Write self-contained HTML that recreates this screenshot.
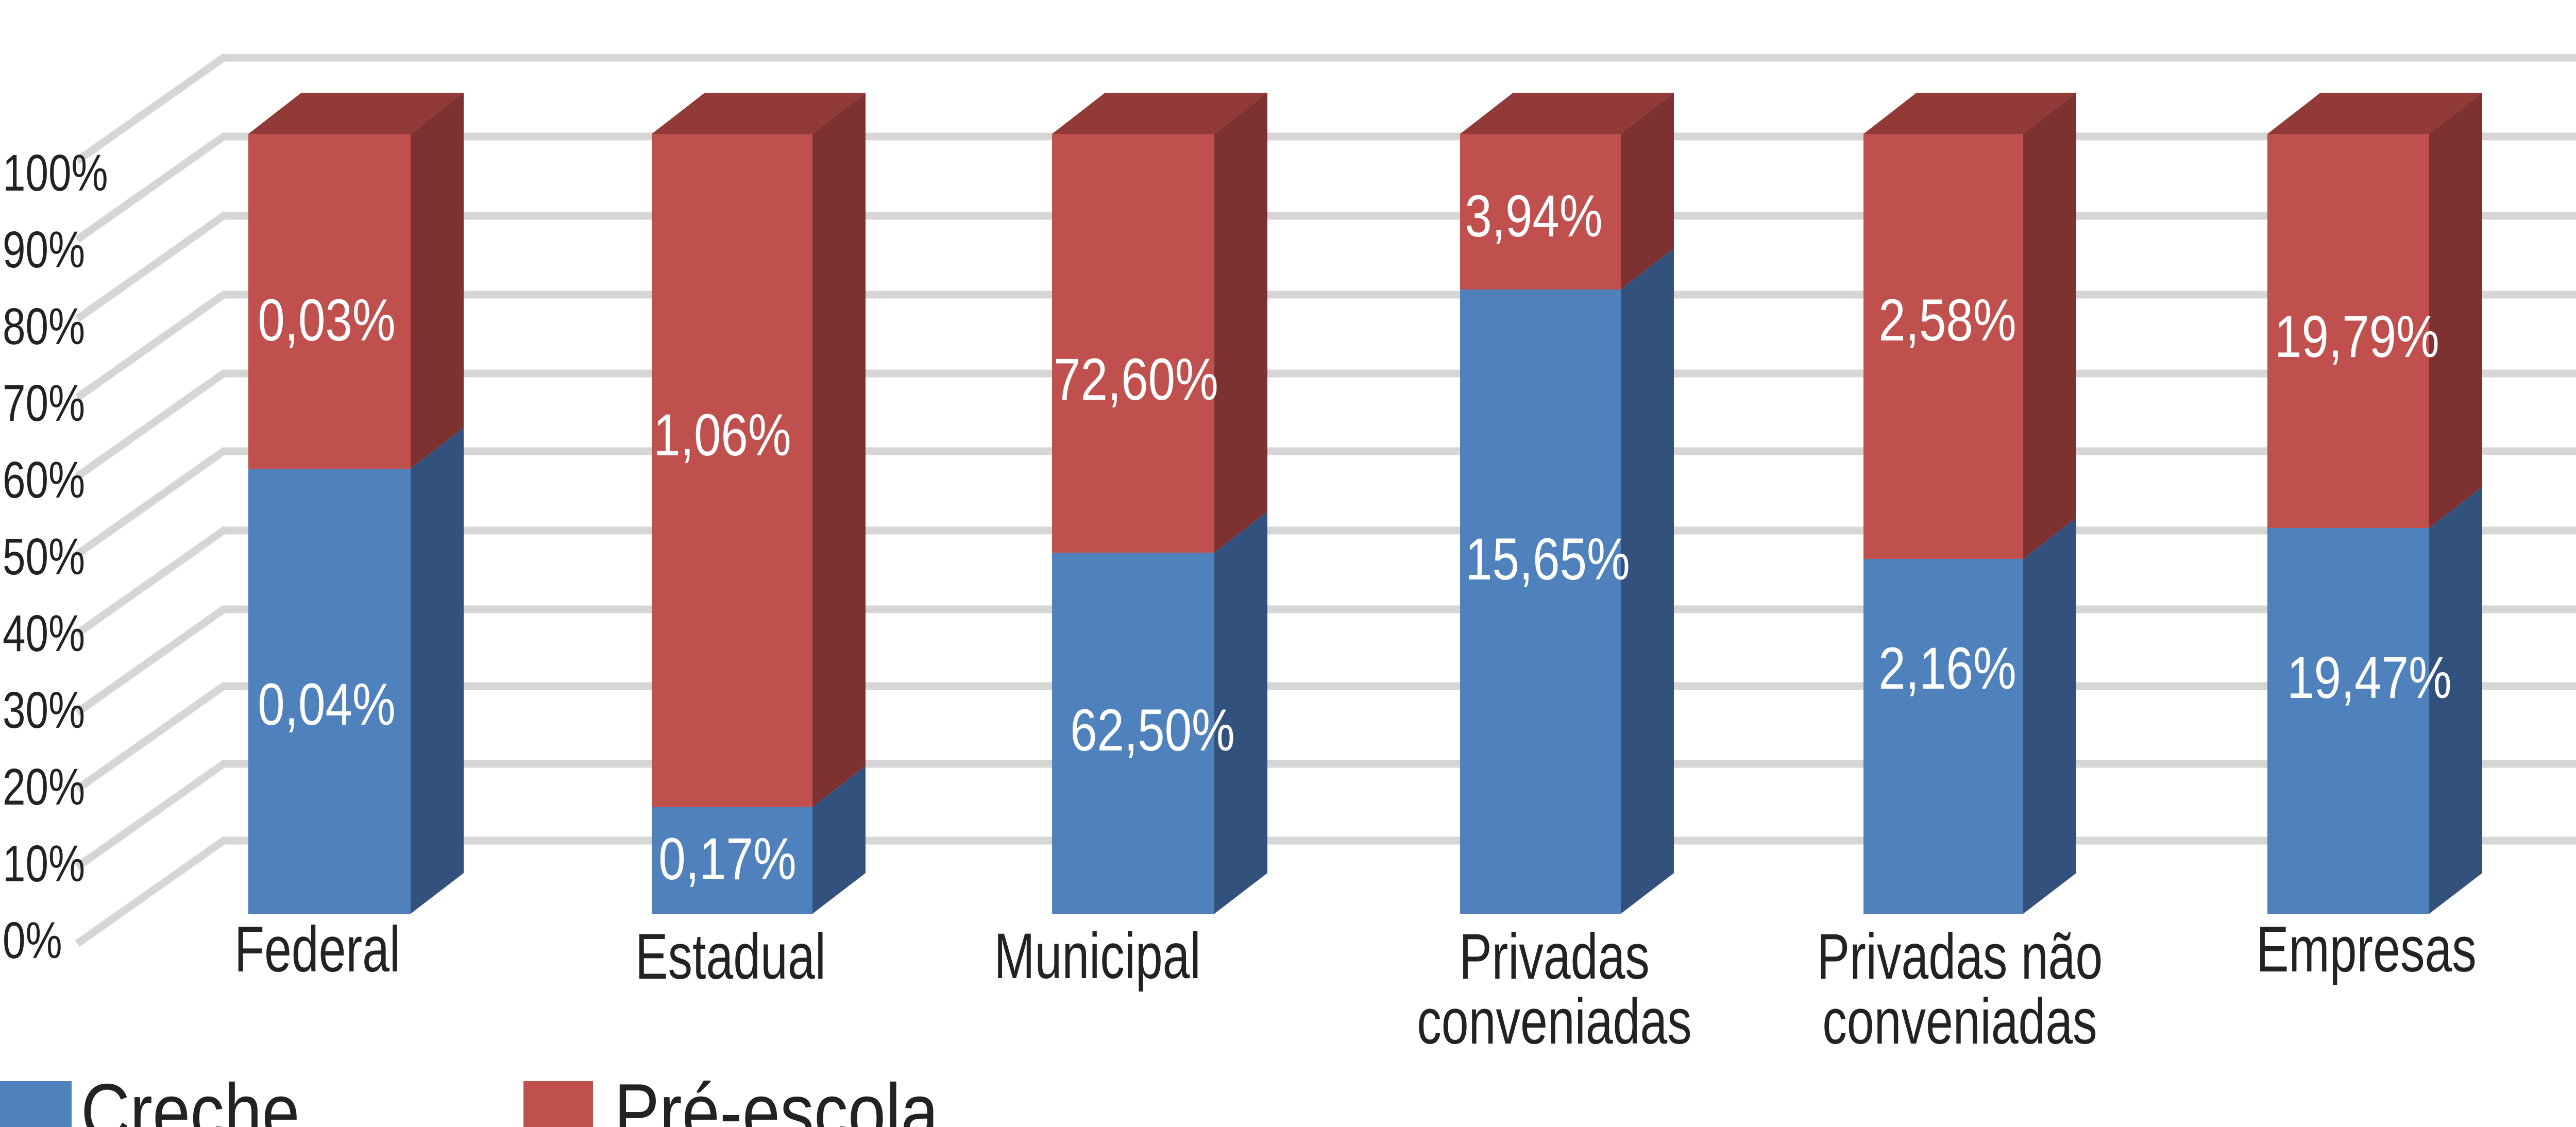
<!DOCTYPE html>
<html><head><meta charset="utf-8"><style>
html,body{margin:0;padding:0;background:#fff;}
svg{display:block;}
text{font-family:"Liberation Sans",sans-serif;}
</style></head><body>
<svg width="5083" height="2188" viewBox="0 0 5083 2188" xmlns="http://www.w3.org/2000/svg">
<g stroke="#d6d6d6" stroke-width="15" fill="none">
<polyline points="150,312 434,112 5083,112"/>
<polyline points="150,465 434,265 5083,265"/>
<polyline points="150,619 434,419 5083,419"/>
<polyline points="150,772 434,572 5083,572"/>
<polyline points="150,925 434,725 5083,725"/>
<polyline points="150,1076 434,876 5083,876"/>
<polyline points="150,1230 434,1030 5083,1030"/>
<polyline points="150,1383 434,1183 5083,1183"/>
<polyline points="150,1532 434,1332 5083,1332"/>
<polyline points="150,1683 434,1483 5083,1483"/>
<polyline points="150,1832 434,1632 5083,1632"/>
</g>
<g font-size="100" fill="#222">
<text x="5" y="370" transform="scale(0.8,1)" transform-origin="5 0">100%</text>
<text x="5" y="519" transform="scale(0.8,1)" transform-origin="5 0">90%</text>
<text x="5" y="668" transform="scale(0.8,1)" transform-origin="5 0">80%</text>
<text x="5" y="817" transform="scale(0.8,1)" transform-origin="5 0">70%</text>
<text x="5" y="966" transform="scale(0.8,1)" transform-origin="5 0">60%</text>
<text x="5" y="1115" transform="scale(0.8,1)" transform-origin="5 0">50%</text>
<text x="5" y="1264" transform="scale(0.8,1)" transform-origin="5 0">40%</text>
<text x="5" y="1413" transform="scale(0.8,1)" transform-origin="5 0">30%</text>
<text x="5" y="1562" transform="scale(0.8,1)" transform-origin="5 0">20%</text>
<text x="5" y="1711" transform="scale(0.8,1)" transform-origin="5 0">10%</text>
<text x="5" y="1860" transform="scale(0.8,1)" transform-origin="5 0">0%</text>
</g>
<g id="bars">
<polygon points="482,260 797,260 900,180 585,180" fill="#923a38"/>
<polygon points="797,260 900,180 900,830 797,910" fill="#7e3131"/>
<polygon points="797,910 900,830 900,1695 797,1774" fill="#32527d"/>
<rect x="482" y="260" width="315" height="650" fill="#c0504d"/>
<rect x="482" y="910" width="315" height="864" fill="#4f81bd"/>
<polygon points="1265,260 1577,260 1680,180 1368,180" fill="#923a38"/>
<polygon points="1577,260 1680,180 1680,1487 1577,1567" fill="#7e3131"/>
<polygon points="1577,1567 1680,1487 1680,1695 1577,1774" fill="#32527d"/>
<rect x="1265" y="260" width="312" height="1307" fill="#c0504d"/>
<rect x="1265" y="1567" width="312" height="207" fill="#4f81bd"/>
<polygon points="2042,260 2357,260 2460,180 2145,180" fill="#923a38"/>
<polygon points="2357,260 2460,180 2460,993 2357,1073" fill="#7e3131"/>
<polygon points="2357,1073 2460,993 2460,1695 2357,1774" fill="#32527d"/>
<rect x="2042" y="260" width="315" height="813" fill="#c0504d"/>
<rect x="2042" y="1073" width="315" height="701" fill="#4f81bd"/>
<polygon points="2834,260 3146,260 3249,180 2937,180" fill="#923a38"/>
<polygon points="3146,260 3249,180 3249,482 3146,562" fill="#7e3131"/>
<polygon points="3146,562 3249,482 3249,1695 3146,1774" fill="#32527d"/>
<rect x="2834" y="260" width="312" height="302" fill="#c0504d"/>
<rect x="2834" y="562" width="312" height="1212" fill="#4f81bd"/>
<polygon points="3617,260 3927,260 4030,180 3720,180" fill="#923a38"/>
<polygon points="3927,260 4030,180 4030,1005 3927,1085" fill="#7e3131"/>
<polygon points="3927,1085 4030,1005 4030,1695 3927,1774" fill="#32527d"/>
<rect x="3617" y="260" width="310" height="825" fill="#c0504d"/>
<rect x="3617" y="1085" width="310" height="689" fill="#4f81bd"/>
<polygon points="4401,260 4715,260 4818,180 4504,180" fill="#923a38"/>
<polygon points="4715,260 4818,180 4818,945 4715,1025" fill="#7e3131"/>
<polygon points="4715,1025 4818,945 4818,1695 4715,1774" fill="#32527d"/>
<rect x="4401" y="260" width="314" height="765" fill="#c0504d"/>
<rect x="4401" y="1025" width="314" height="749" fill="#4f81bd"/>
</g>
<g font-size="115" fill="#fff" text-anchor="middle">
<text x="634" y="661" transform="scale(0.82,1)" transform-origin="634 0">0,03%</text>
<text x="634" y="1407" transform="scale(0.82,1)" transform-origin="634 0">0,04%</text>
<text x="1402" y="884" transform="scale(0.82,1)" transform-origin="1402 0">1,06%</text>
<text x="1412" y="1707" transform="scale(0.82,1)" transform-origin="1412 0">0,17%</text>
<text x="2205" y="776" transform="scale(0.82,1)" transform-origin="2205 0">72,60%</text>
<text x="2237" y="1457" transform="scale(0.82,1)" transform-origin="2237 0">62,50%</text>
<text x="2977" y="459" transform="scale(0.82,1)" transform-origin="2977 0">3,94%</text>
<text x="3004" y="1125" transform="scale(0.82,1)" transform-origin="3004 0">15,65%</text>
<text x="3780" y="661" transform="scale(0.82,1)" transform-origin="3780 0">2,58%</text>
<text x="3780" y="1337" transform="scale(0.82,1)" transform-origin="3780 0">2,16%</text>
<text x="4575" y="693" transform="scale(0.82,1)" transform-origin="4575 0">19,79%</text>
<text x="4599" y="1355" transform="scale(0.82,1)" transform-origin="4599 0">19,47%</text>
</g>
<g font-size="125" fill="#222" text-anchor="middle">
<text x="616" y="1886" transform="scale(0.76,1)" transform-origin="616 0">Federal</text>
<text x="1418" y="1900" transform="scale(0.76,1)" transform-origin="1418 0">Estadual</text>
<text x="2130" y="1899" transform="scale(0.76,1)" transform-origin="2130 0">Municipal</text>
<text x="3017" y="1900" transform="scale(0.76,1)" transform-origin="3017 0">Privadas</text>
<text x="3017" y="2026" transform="scale(0.76,1)" transform-origin="3017 0">conveniadas</text>
<text x="3804" y="1900" transform="scale(0.76,1)" transform-origin="3804 0">Privadas não</text>
<text x="3804" y="2026" transform="scale(0.76,1)" transform-origin="3804 0">conveniadas</text>
<text x="4593" y="1886" transform="scale(0.76,1)" transform-origin="4593 0">Empresas</text>
</g>
<rect x="0" y="2099" width="139" height="89" fill="#4f81bd"/>
<rect x="1016" y="2099" width="135" height="89" fill="#c0504d"/>
<g font-size="155" fill="#222">
<text x="157" y="2212" transform="scale(0.85,1)" transform-origin="157 0">Creche</text>
<text x="1192" y="2212" transform="scale(0.85,1)" transform-origin="1192 0">Pré-escola</text>
</g>
</svg>
</body></html>
